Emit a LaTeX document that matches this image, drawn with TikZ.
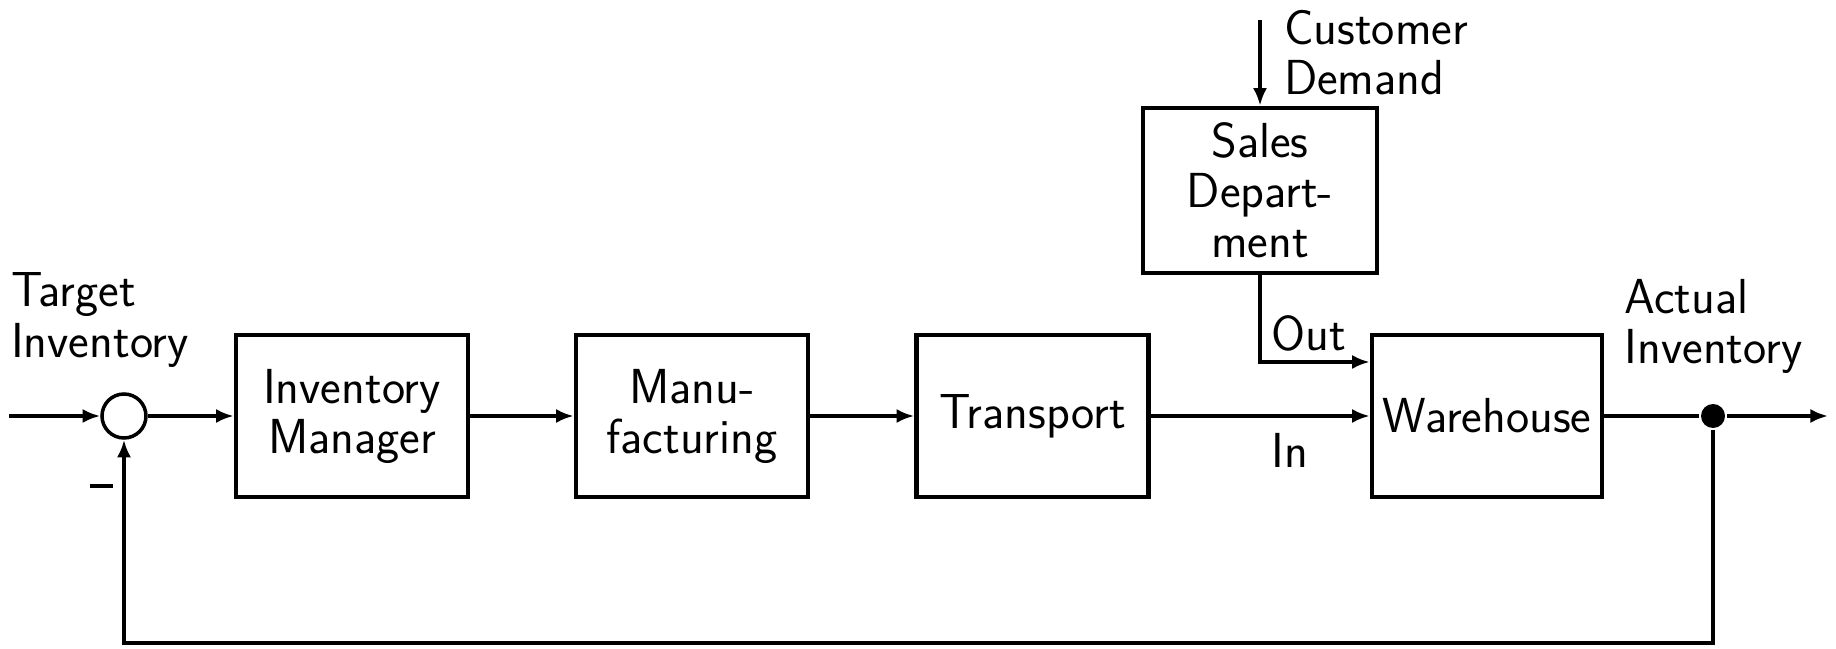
\documentclass[tikz,border=0pt]{standalone}
\usetikzlibrary{positioning,arrows.meta,calc}

\begin{document}
\begin{tikzpicture}[
  line width=2.6pt, >={Latex[length=10pt,width=8pt]},
  font=\sffamily\fontsize{28}{28.5}\selectfont,
  box/.style={draw, align=center, minimum width=4.64cm, minimum height=3.24cm, inner sep=0pt},
  lab/.style={align=left, inner sep=0pt},
  sumpt/.style={draw, circle, line width=2pt, minimum size=0.88cm, inner sep=0pt},
  dot/.style={fill, circle, minimum size=0.48cm, inner sep=0pt}]
  \useasboundingbox (0,0) rectangle (36.72,12.96);
  % forward path
  \coordinate (in) at (0.18,4.64);
  \node[sumpt] (sum) at (2.48,4.64) {};
  \node[box] (mgr) at (7.04,4.64) {Inventory\\ Manager};
  \node[box] (manu) at (13.84,4.64) {Manu-\\ facturing};
  \node[box] (trans) at (20.65,4.64) {Transport};
  \node[box, minimum width=4.6cm] (wh) at (29.74,4.64) {Warehouse};
  \node[box, minimum width=4.68cm, minimum height=3.3cm] (sales) at (25.2,9.15) {Sales\\ Depart-\\ ment};
  \node[dot] (split) at (34.26,4.64) {};
  \coordinate (end) at (36.56,4.64);
  \coordinate (dem) at (25.2,12.56);
  \coordinate (out) at ($(wh.west)+(0,1.08)$);
  \coordinate (fb) at (2.48,0.1);
  \draw[->] (in) -- (sum);
  \draw[->] (sum) -- (mgr);
  \draw[->] (mgr) -- (manu);
  \draw[->] (manu) -- (trans);
  \draw[->] (trans) -- (wh);
  \draw[->] (dem) -- (sales);
  \draw[->] (sales) -- (sales |- out) -- (out);
  \draw (wh) -- (split);
  \draw[->] (split) -- (end);
  % feedback
  \draw[->] (split) -- (split |- fb) -- (fb) -- (sum);
  % labels
  \node[lab] (tgt) at (2.0,6.56) {Target\\ Inventory};
  \node[lab] (act) at (34.27,6.44) {Actual\\ Inventory};
  \node[lab] (cust) at (27.52,11.9) {Customer\\ Demand};
  \node[lab] (outl) at (26.18,6.3) {Out};
  \node[lab] (inl) at (25.8,3.96) {In};
  \node[lab] (minus) at (2.02,3.24) {\rule{0.46cm}{0.09cm}};
\end{tikzpicture}
\end{document}
